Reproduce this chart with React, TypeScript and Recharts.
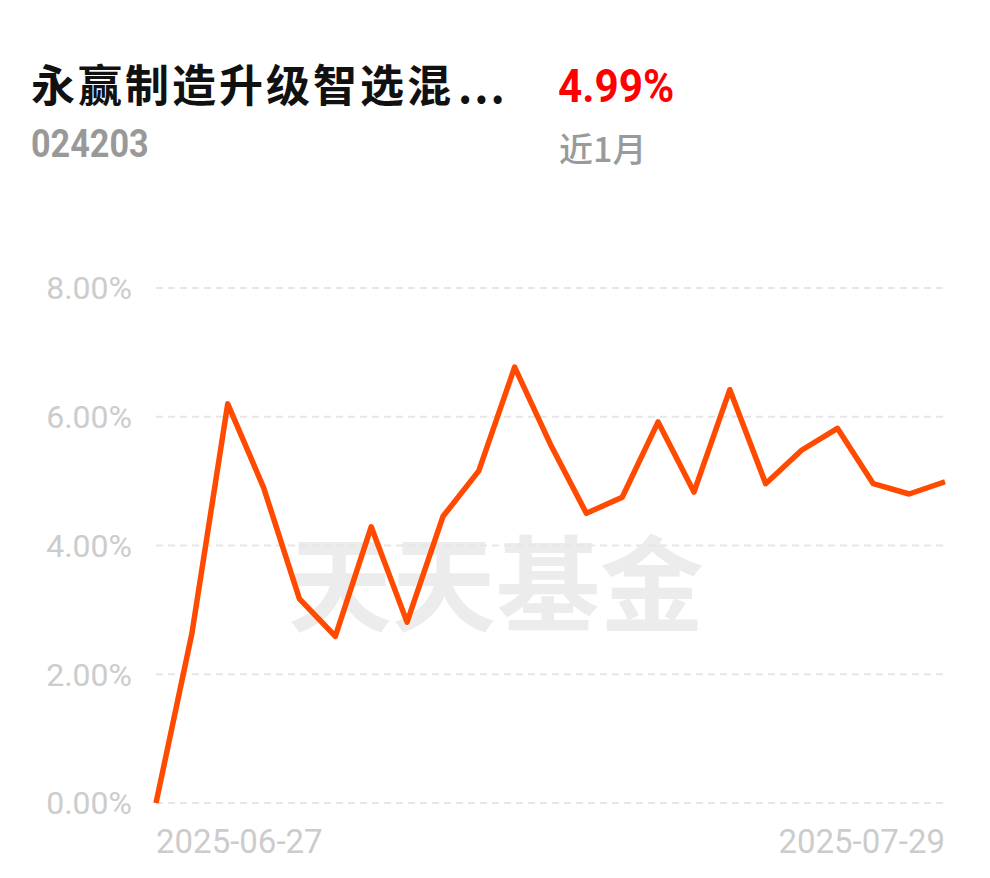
import React from 'react';
import { LineChart, Line, XAxis, YAxis, CartesianGrid } from 'recharts';

const dates = [
  '2025-06-27', '2025-06-30', '2025-07-01', '2025-07-02', '2025-07-03', '2025-07-04',
  '2025-07-07', '2025-07-08', '2025-07-09', '2025-07-10', '2025-07-11', '2025-07-14',
  '2025-07-15', '2025-07-16', '2025-07-17', '2025-07-18', '2025-07-21', '2025-07-22',
  '2025-07-23', '2025-07-24', '2025-07-25', '2025-07-28', '2025-07-29',
];
const returns = [
  0, 2.63, 6.2, 4.9, 3.17, 2.59, 4.29, 2.81, 4.45, 5.16, 6.77, 5.57,
  4.5, 4.75, 5.92, 4.83, 6.42, 4.96, 5.48, 5.82, 4.96, 4.8, 4.99,
];
const yTicks = [0, 2, 4, 6, 8];
const xTicks = ['2025-06-27', '2025-07-29'];

const fundName = '永赢制造升级智选混';
const ellipsis = '...';
const fundCode = '024203';
const periodReturn = '4.99%';
const periodLabel = '近1月';
const watermark = '天天基金';

const data = dates.map((d, i) => ({ date: d, value: returns[i] }));

const XTick = (props: any) => {
  const { x, y, payload } = props;
  const isFirst = payload.value === xTicks[0];
  return (
    <text
      x={x}
      y={y + 42}
      textAnchor={isFirst ? 'start' : 'end'}
      fill="#cccccc"
      fontSize={33}
      fontFamily="Roboto, sans-serif"
    >
      {payload.value}
    </text>
  );
};

export default function App() {
  return (
    <div style={{ position: 'absolute', left: 0, top: 0, width: 990, height: 878, background: '#fff', overflow: 'hidden' }}>
      <svg width={990} height={878} style={{ position: 'absolute', left: 0, top: 0 }}>
        <text
          x={496}
          y={624}
          textAnchor="middle"
          fontSize={104}
          fontWeight={700}
          fill="#ececec"
          fontFamily="'Noto Sans CJK SC', sans-serif"
        >
          {watermark}
        </text>
      </svg>
      <div style={{ position: 'absolute', left: 0, top: 0 }}>
        <LineChart
          width={990}
          height={878}
          data={data}
          margin={{ top: 288, right: 45, left: 56, bottom: 25 }}
        >
          <CartesianGrid
            vertical={false}
            stroke="#e6e6e6"
            strokeWidth={2}
            strokeDasharray="7 5"
          />
          <XAxis
            dataKey="date"
            ticks={xTicks}
            interval={0}
            axisLine={false}
            tickLine={false}
            height={50}
            tick={<XTick />}
          />
          <YAxis
            domain={[0, 8]}
            ticks={yTicks}
            width={100}
            axisLine={false}
            tickLine={false}
            tickSize={6}
            tickMargin={18}
            tickFormatter={(v: number) => v.toFixed(2) + '%'}
            tick={{ fill: '#cccccc', fontSize: 32, fontFamily: 'Roboto, sans-serif' }}
          />
          <Line
            type="linear"
            dataKey="value"
            stroke="#ff4a00"
            strokeWidth={5.5}
            dot={false}
            activeDot={false}
            strokeLinejoin="round"
            isAnimationActive={false}
          />
        </LineChart>
      </div>
      <svg width={990} height={200} style={{ position: 'absolute', left: 0, top: 0 }}>
        <text
          x={31}
          y={102}
          fontSize={44}
          fontWeight={700}
          letterSpacing={3}
          fill="#111111"
          fontFamily="'Noto Sans CJK SC', sans-serif"
        >
          {fundName}
        </text>
        <text
          x={458}
          y={103}
          fontSize={44}
          fontWeight={700}
          letterSpacing={2}
          fill="#111111"
          fontFamily="'Noto Sans CJK SC', sans-serif"
        >
          {ellipsis}
        </text>
        <text
          transform="translate(31,157) scale(0.9,1)"
          fontSize={38}
          fontWeight={700}
          fill="#999999"
          fontFamily="Roboto, sans-serif"
        >
          {fundCode}
        </text>
        <text
          transform="translate(558,102) scale(0.9,1)"
          fontSize={47}
          fontWeight={700}
          fill="#ff0000"
          fontFamily="Roboto, sans-serif"
        >
          {periodReturn}
        </text>
        <text
          x={559}
          y={162}
          fontSize={34}
          fontWeight={500}
          fill="#9a9a9a"
          fontFamily="'Noto Sans CJK SC', sans-serif"
        >
          {periodLabel}
        </text>
      </svg>
    </div>
  );
}
